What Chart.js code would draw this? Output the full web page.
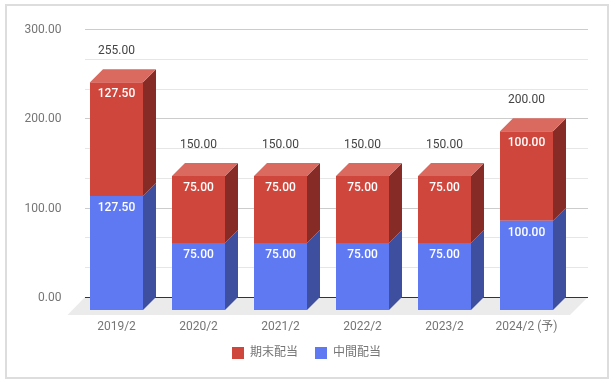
<!DOCTYPE html>
<html>
<head>
<meta charset="utf-8">
<script src="https://cdn.jsdelivr.net/npm/chart.js@4/dist/chart.umd.min.js"></script>
<style>
  body { margin: 0; background: #fff; }
  #frame { position: absolute; left: 5px; top: 4px; width: 600px; height: 371px; border: 2px solid #ddd; }
  #dividends { position: absolute; left: 0; top: 0; }
</style>
</head>
<body>
<div id="frame"></div>
<canvas id="dividends" width="613" height="382"></canvas>
<script>
var years = ["2019/2", "2020/2", "2021/2", "2022/2", "2023/2", "2024/2 (予)"];
var interim = [127.5, 75, 75, 75, 75, 100];
var yearEnd = [127.5, 75, 75, 75, 75, 100];
var totals = [255, 150, 150, 150, 150, 200];
var yTicks = [0, 100, 200, 300];

var depth = 13;
var fontName = "Roboto, 'Noto Sans CJK JP', sans-serif";

var faces = {
  interim: { side: "#3e4f9f" },
  yearEnd: { side: "#872b26", top: "#da6a60" }
};

// gridlines and floor sit on the back wall, shifted from the bars
var backWall = {
  id: "backWall",
  afterLayout(chart) {
    // legend sits closer to the axis than its own padding allows
    chart.legend.top -= 7;
    chart.legend.bottom -= 7;
  },
  beforeDatasetsDraw(chart) {
    var c = chart.ctx, area = chart.chartArea, back = chart.scales.yBack;
    var left = area.left + 9.5, right = area.right + 20.5;
    var zero = back.getPixelForValue(0);

    c.save();
    c.fillStyle = "#ebebeb";
    c.beginPath();
    c.moveTo(left, zero);
    c.lineTo(right, zero);
    c.lineTo(right - 18, zero + 18);
    c.lineTo(left - 17.5, zero + 18);
    c.closePath();
    c.fill();

    c.lineWidth = 1;
    for (var i = 0; i < 3; i++) {
      for (var j = 0; j < 3; j++) {
        var v = yTicks[i] + j * 100 / 3;
        var py = Math.round(back.getPixelForValue(v)) + 0.5;
        c.strokeStyle = j == 0 ? "#cccccc" : "#e6e6e6";
        c.beginPath();
        c.moveTo(left, py);
        c.lineTo(right, py);
        c.stroke();
      }
    }
    var topY = Math.round(back.getPixelForValue(yTicks[3])) + 0.5;
    c.strokeStyle = "#cccccc";
    c.beginPath();
    c.moveTo(left, topY);
    c.lineTo(right, topY);
    c.stroke();

    c.strokeStyle = "#333333";
    c.beginPath();
    c.moveTo(left, Math.round(zero) + 0.5);
    c.lineTo(right, Math.round(zero) + 0.5);
    c.stroke();
    c.restore();
  },
  afterDatasetsDraw(chart) {
    var c = chart.ctx;
    c.save();
    chart.data.datasets.forEach(function(ds, d) {
      var face = d == 0 ? faces.interim : faces.yearEnd;
      chart.getDatasetMeta(d).data.forEach(function(bar) {
        var l = bar.x - bar.width / 2, r = bar.x + bar.width / 2;
        c.fillStyle = face.side;
        c.beginPath();
        c.moveTo(r, bar.y);
        c.lineTo(r + depth, bar.y - depth);
        c.lineTo(r + depth, bar.base - depth);
        c.lineTo(r, bar.base);
        c.closePath();
        c.fill();
        if (face.top) {
          c.fillStyle = face.top;
          c.beginPath();
          c.moveTo(l, bar.y);
          c.lineTo(l + depth, bar.y - depth);
          c.lineTo(r + depth, bar.y - depth);
          c.lineTo(r, bar.y);
          c.closePath();
          c.fill();
        }
      });
    });

    // value labels
    c.textAlign = "center";
    c.textBaseline = "middle";
    chart.data.datasets.forEach(function(ds, d) {
      c.font = "500 12px " + fontName;
      c.fillStyle = "#ffffff";
      chart.getDatasetMeta(d).data.forEach(function(bar, i) {
        c.fillText(ds.data[i].toFixed(2), bar.x, bar.y + 12);
      });
    });
    c.font = "12px " + fontName;
    c.fillStyle = "#444444";
    chart.getDatasetMeta(1).data.forEach(function(bar, i) {
      c.fillText(totals[i].toFixed(2), bar.x, bar.y - 31);
    });
    c.restore();
  }
};

var ctx = document.getElementById("dividends").getContext("2d");
var myChart = new Chart(ctx, {
  type: "bar",
  data: {
    labels: years,
    datasets: [
      { label: "中間配当", data: interim, backgroundColor: "#5f79f3", yAxisID: "y" },
      { label: "期末配当", data: yearEnd, backgroundColor: "#cf463c", yAxisID: "y" }
    ]
  },
  plugins: [backWall],
  options: {
    responsive: false,
    animation: false,
    layout: { padding: { left: 0, right: 0, top: 29, bottom: 6 } },
    categoryPercentage: 1,
    barPercentage: 53 / 82,
    scales: {
      x: {
        stacked: true,
        border: { display: false },
        grid: { display: false, drawTicks: false },
        ticks: { color: "#757575", font: { family: fontName, size: 12 }, padding: 10, maxRotation: 0 },
        afterFit(scale) { scale.height = 27; }
      },
      y: {
        stacked: true,
        display: false,
        min: 0,
        max: 314.6
      },
      yBack: {
        position: "left",
        min: -14.56,
        max: 300,
        border: { display: false },
        grid: { display: false, drawTicks: false },
        afterBuildTicks(scale) {
          scale.ticks = yTicks.map(function(v) { return { value: v }; });
        },
        ticks: {
          color: "#757575",
          font: { family: fontName, size: 12 },
          padding: 14,
          labelOffset: 1,
          callback: function(v) { return v.toFixed(2); }
        },
        afterFit(scale) { scale.width = 75.5; }
      },
      // empty axis, only keeps room on the right for the back wall
      spacer: {
        position: "right",
        grid: { display: false, drawTicks: false },
        border: { display: false },
        ticks: { display: false },
        afterFit(scale) { scale.width = 45.5; }
      }
    },
    plugins: {
      tooltip: { enabled: false },
      legend: {
        position: "bottom",
        reverse: true,
        labels: {
          boxWidth: 12,
          boxHeight: 12,
          padding: 17,
          color: "#757575",
          font: { family: fontName, size: 12 }
        }
      }
    }
  }
});
</script>
</body>
</html>
